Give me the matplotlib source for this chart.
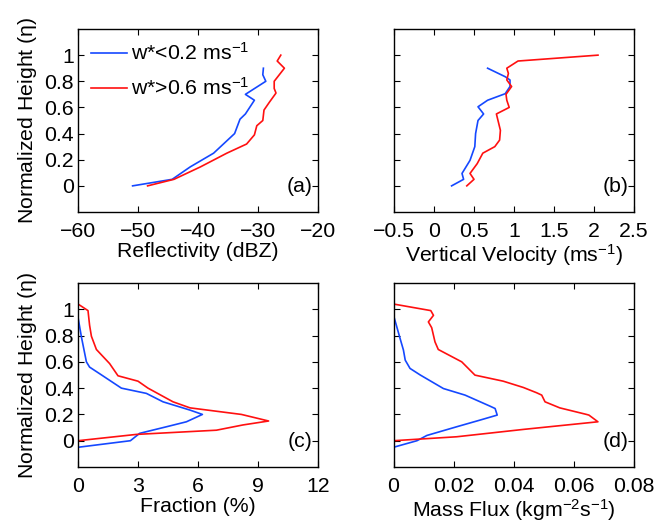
import matplotlib
matplotlib.use("Agg")
import matplotlib.pyplot as plt
import numpy as np

plt.rcParams['font.family'] = ['Liberation Sans', 'DejaVu Sans']
plt.rcParams['mathtext.fontset'] = 'custom'
plt.rcParams['mathtext.rm'] = 'Liberation Sans'
plt.rcParams['mathtext.it'] = 'Liberation Sans:italic'
plt.rcParams['mathtext.default'] = 'regular'
FS = 15.3
plt.rcParams['font.size'] = FS

BLUE = '#1548ff'
RED = '#ff1010'

# (a) Reflectivity
refl_low_x = [-50.9, -44.3, -41.3, -37.4, -33.9, -33.0, -32.1, -30.6, -32.1, -28.7, -29.2, -29.1]
refl_low_y = [0.0, 0.05, 0.145, 0.25, 0.40, 0.51, 0.55, 0.655, 0.70, 0.80, 0.85, 0.90]
refl_high_x = [-48.4, -44.0, -39.6, -35.2, -31.9, -30.6, -30.2, -29.2, -29.0, -28.1, -27.0, -27.3, -27.3, -25.6, -26.8, -26.2]
refl_high_y = [0.0, 0.05, 0.145, 0.25, 0.32, 0.39, 0.46, 0.50, 0.58, 0.64, 0.71, 0.745, 0.80, 0.90, 0.955, 1.0]

# (b) Vertical velocity
vel_low_x = [0.22, 0.37, 0.35, 0.45, 0.51, 0.52, 0.55, 0.62, 0.55, 0.67, 0.89, 0.95, 0.95, 0.89, 0.67]
vel_low_y = [0.0, 0.05, 0.095, 0.195, 0.30, 0.40, 0.50, 0.55, 0.605, 0.655, 0.705, 0.76, 0.81, 0.835, 0.90]
vel_high_x = [0.41, 0.50, 0.45, 0.54, 0.61, 0.76, 0.82, 0.83, 0.78, 0.94, 0.91, 0.90, 0.97, 0.91, 0.93, 0.91, 1.05, 2.05]
vel_high_y = [0.0, 0.05, 0.095, 0.17, 0.25, 0.30, 0.35, 0.425, 0.55, 0.60, 0.655, 0.70, 0.76, 0.81, 0.86, 0.90, 0.955, 1.0]

# (c) Fraction
frac_low_x = [0, 0, 2.62, 3.08, 4.42, 5.42, 6.22, 5.6, 4.25, 3.42, 2.17, 1.08, 0.58, 0.42, 0.17, 0, 0]
frac_low_y = [-0.2, -0.05, 0.0, 0.056, 0.106, 0.144, 0.20, 0.233, 0.296, 0.36, 0.40, 0.51, 0.56, 0.60, 0.79, 0.94, 1.2]
frac_high_x = [0, 0, 2.92, 6.92, 8.25, 9.53, 8.17, 5.6, 4.75, 3.5, 3.0, 2.0, 1.58, 0.92, 0.67, 0.58, 0.5, 0, 0]
frac_high_y = [-0.2, 0.0, 0.048, 0.08, 0.12, 0.15, 0.20, 0.25, 0.296, 0.40, 0.453, 0.494, 0.587, 0.694, 0.795, 0.878, 0.99, 1.04, 1.2]

# (d) Mass flux
flux_low_x = [0, 0, 0.0078, 0.0111, 0.021, 0.0288, 0.0345, 0.0338, 0.0321, 0.0238, 0.0166, 0.0089, 0.0055, 0.0039, 0.0033, 0.0022, 0, 0]
flux_low_y = [-0.2, -0.05, 0.0, 0.04, 0.106, 0.157, 0.195, 0.245, 0.263, 0.347, 0.397, 0.50, 0.55, 0.613, 0.69, 0.777, 0.955, 1.2]
flux_high_x = [0, 0, 0.021, 0.0432, 0.068, 0.065, 0.0642, 0.0553, 0.0504, 0.0493, 0.0476, 0.0432, 0.0365, 0.0271, 0.0227, 0.0149, 0.0138, 0.0127, 0.0116, 0.0133, 0.0124, 0, 0]
flux_high_y = [-0.2, 0.0, 0.03, 0.086, 0.144, 0.195, 0.20, 0.25, 0.296, 0.347, 0.365, 0.405, 0.453, 0.499, 0.60, 0.694, 0.752, 0.86, 0.904, 0.954, 0.99, 1.04, 1.2]

yticks = [0, 0.2, 0.4, 0.6, 0.8, 1]
ytick_labels = ['0', '0.2', '0.4', '0.6', '0.8', '1']

fig = plt.figure(figsize=(6.72, 5.23), dpi=100)
pos = {
    'a': [78/672, 1-212/523, 240/672, 183/523],
    'b': [394/672, 1-212/523, 240/672, 183/523],
    'c': [78/672, 1-467/523, 240/672, 184/523],
    'd': [393.5/672, 1-467/523, 240.5/672, 184/523],
}
axes = {k: fig.add_axes(v) for k, v in pos.items()}

lw = 1.2
ax = axes['a']
ax.plot(refl_low_x, refl_low_y, color=BLUE, lw=lw, label=r'w*<0.2 ms$^{−1}$')
ax.plot(refl_high_x, refl_high_y, color=RED, lw=lw, label=r'w*>0.6 ms$^{−1}$')
ax.set_xlim(-60, -20)
ax.set_xticks([-60, -50, -40, -30, -20])
ax.set_xlabel('Reflectivity (dBZ)', labelpad=1)
leg = ax.legend(loc='upper left', frameon=False, fontsize=FS, handlelength=1.7,
                handletextpad=0.18, borderpad=0.4, borderaxespad=0.22,
                labelspacing=0.62, bbox_to_anchor=(0.0, 1.0))

ax = axes['b']
ax.plot(vel_low_x, vel_low_y, color=BLUE, lw=lw)
ax.plot(vel_high_x, vel_high_y, color=RED, lw=lw)
ax.set_xlim(-0.5, 2.5)
ax.set_xticks([-0.5, 0, 0.5, 1, 1.5, 2, 2.5])
ax.set_xticklabels(['−0.5', '0', '0.5', '1', '1.5', '2', '2.5'])
ax.set_xlabel(r'Vertical Velocity (ms$^{−1}$)', labelpad=1)

ax = axes['c']
ax.plot(frac_low_x, frac_low_y, color=BLUE, lw=lw)
ax.plot(frac_high_x, frac_high_y, color=RED, lw=lw)
ax.set_xlim(0, 12)
ax.set_xticks([0, 3, 6, 9, 12])
ax.set_xlabel('Fraction (%)', labelpad=1)

ax = axes['d']
ax.plot(flux_low_x, flux_low_y, color=BLUE, lw=lw)
ax.plot(flux_high_x, flux_high_y, color=RED, lw=lw)
ax.set_xlim(0, 0.08)
ax.set_xticks([0, 0.02, 0.04, 0.06, 0.08])
ax.set_xticklabels(['0', '0.02', '0.04', '0.06', '0.08'])
ax.set_xlabel(r'Mass Flux (kgm$^{−2}$s$^{−1}$)', labelpad=1)

for k, ax in axes.items():
    ax.set_ylim(-0.2, 1.2)
    ax.set_yticks(yticks)
    if k in ('a', 'c'):
        ax.set_yticklabels(ytick_labels)
        ax.set_ylabel(r'Normalized Height ($\eta$)', labelpad=4)
    else:
        ax.set_yticklabels([])
    ax.tick_params(direction='in', top=True, right=True, length=4, width=0.8,
                   labelsize=FS)
    ax.tick_params(axis='x', pad=7)
    ax.tick_params(axis='y', pad=3)
    for s in ax.spines.values():
        s.set_linewidth(1.0)
    ax.text(0.925, 0.14, f'({k})', transform=ax.transAxes, ha='center', va='center', fontsize=FS)

fig.savefig('out.png', dpi=100)
